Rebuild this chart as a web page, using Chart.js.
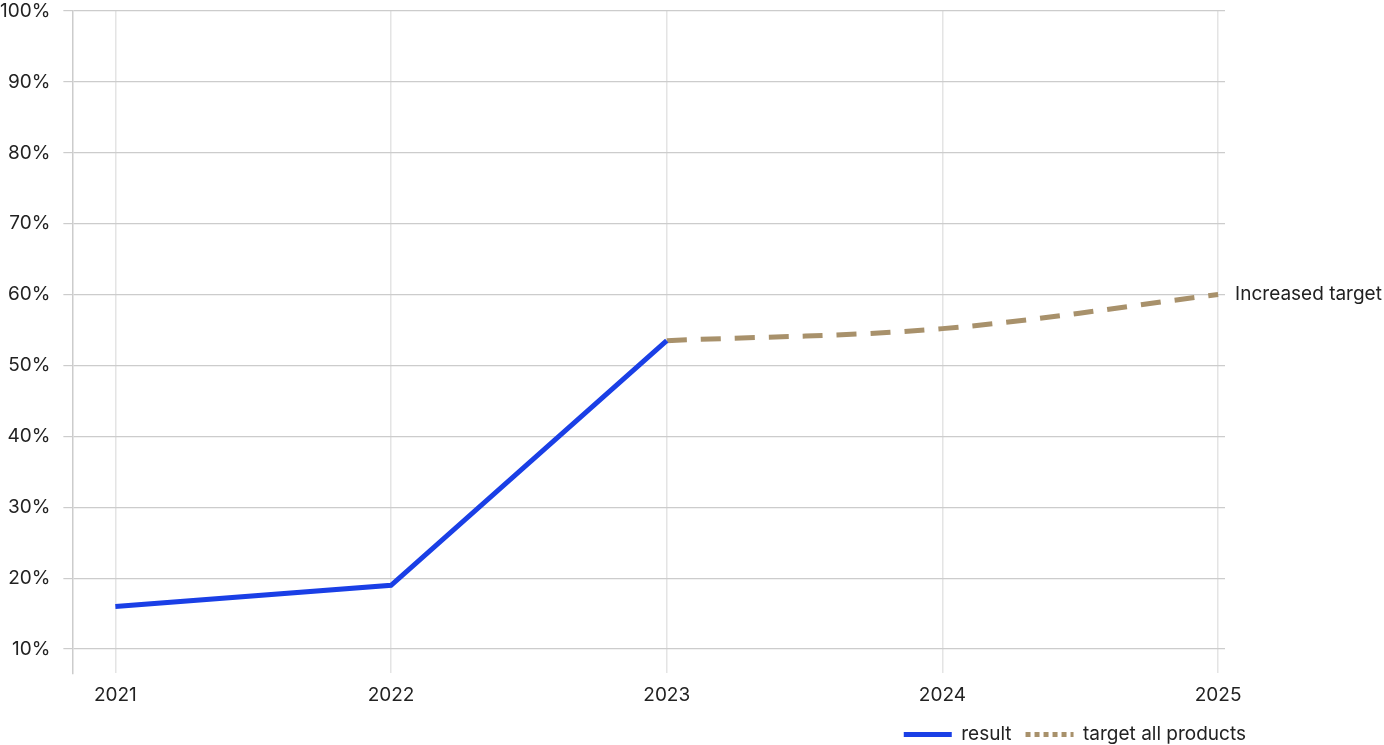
<!DOCTYPE html>
<html>
<head>
<meta charset="utf-8">
<script src="https://cdn.jsdelivr.net/npm/chart.js@4"></script>
<style>
  html, body { margin: 0; padding: 0; background: #fff; }
  #wrap { width: 1384px; height: 745px; position: relative; }
</style>
</head>
<body>
<div id="wrap"><canvas id="myChartLine"></canvas></div>
<script>
const years = [2021, 2022, 2023, 2024, 2025];
const resultValues = [16, 19, 53.5, null, null];
const targetValues = [null, null, 53.5, 55.2, 60];
const yTicks = [10, 20, 30, 40, 50, 60, 70, 80, 90, 100];
const endLabel = 'Increased target';

const blue = '#1a3fe6';
const tan = '#a8916b';
const fontSize = 19;

const toPoints = (vals) => years.map((y, i) => ({ x: y, y: vals[i] }));

const endLabelPlugin = {
  id: 'endLabel',
  afterLayout(chart) {
    // legend sits right of the plot area
    const lg = chart.legend;
    lg.left += 35;
    lg.right += 35;
    lg.top -= 7;
    lg.bottom -= 7;
  },
  afterDraw(chart) {
    const ctx = chart.ctx;
    const xs = chart.scales.x;
    const ys = chart.scales.y;
    ctx.save();
    ctx.font = fontSize + 'px Inter';
    ctx.fillStyle = '#222';
    ctx.textBaseline = 'middle';
    ctx.fillText(endLabel, xs.getPixelForValue(2025) + 17, ys.getPixelForValue(60));
    ctx.restore();
  }
};

const ctxLine = document.getElementById('myChartLine');

new Chart(ctxLine, {
  type: 'line',
  data: {
    datasets: [
      {
        label: 'result',
        data: toPoints(resultValues),
        borderColor: blue,
        backgroundColor: blue,
        borderWidth: 5,
        pointRadius: 0,
        tension: 0
      },
      {
        label: 'target all products',
        data: toPoints(targetValues),
        borderColor: tan,
        backgroundColor: tan,
        borderWidth: 5,
        borderDash: [20, 14],
        pointRadius: 0,
        tension: 0.35
      }
    ]
  },
  options: {
    responsive: true,
    maintainAspectRatio: false,
    animation: false,
    layout: { padding: { top: 11, right: 159, bottom: -16, left: -13 } },
    plugins: {
      tooltip: { enabled: false },
      legend: {
        position: 'bottom',
        align: 'end',
        labels: {
          usePointStyle: true,
          pointStyle: 'line',
          pointStyleWidth: 48,
          padding: 14,
          color: '#222',
          font: { family: 'Inter', size: fontSize },
          generateLabels(chart) {
            const items = Chart.defaults.plugins.legend.labels.generateLabels(chart);
            items[1].lineDash = [5, 4];
            return items;
          }
        }
      }
    },
    scales: {
      x: {
        type: 'linear',
        min: 2020.844,
        max: 2025.025,
        afterBuildTicks(scale) {
          scale.ticks = years.map(v => ({ value: v }));
        },
        ticks: {
          callback: (v) => String(v),
          color: '#222',
          font: { family: 'Inter', size: fontSize },
          padding: 11,
          maxRotation: 0
        },
        grid: { color: '#e4e4e4', lineWidth: 1.5, drawTicks: false },
        border: { display: false }
      },
      y: {
        min: 6.6,
        max: 100,
        afterBuildTicks(scale) {
          scale.ticks = yTicks.map(v => ({ value: v }));
        },
        afterFit(scale) {
          scale.paddingTop = 0;
        },
        ticks: {
          callback: (v) => v + '%',
          color: '#222',
          font: { family: 'Inter', size: fontSize },
          padding: 13
        },
        grid: { color: '#cccccc', lineWidth: 1.2, tickLength: 9 },
        border: { display: true, color: '#cccccc', width: 1.5 }
      }
    }
  },
  plugins: [endLabelPlugin]
});
</script>
</body>
</html>
